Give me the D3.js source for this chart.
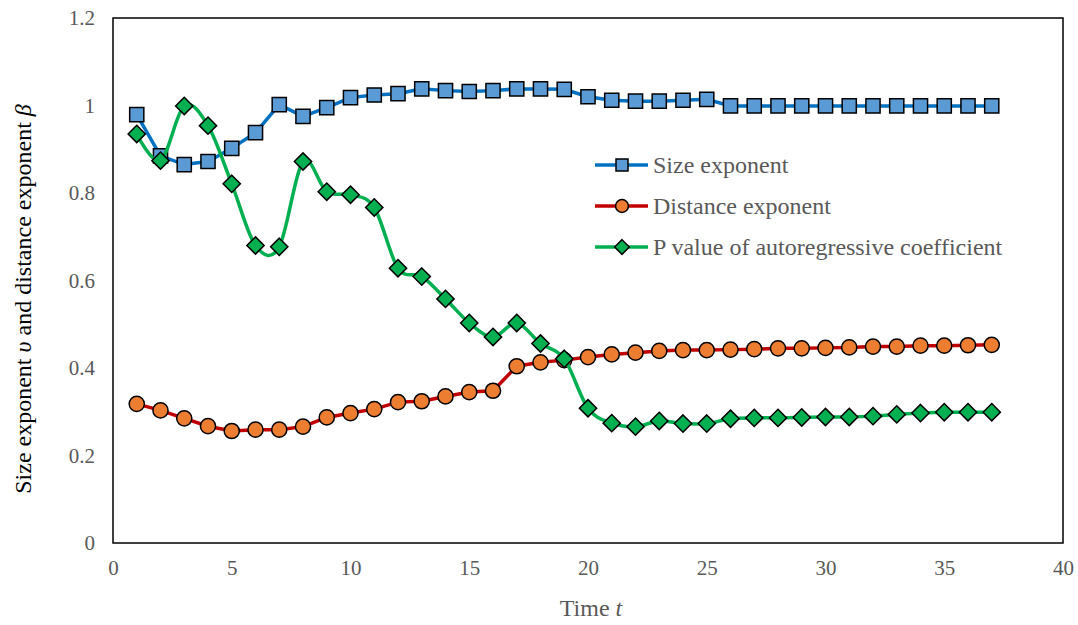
<!DOCTYPE html>
<html>
<head>
<meta charset="utf-8">
<script src="https://cdn.jsdelivr.net/npm/d3@7"></script>
<style>
  body { margin: 0; background: #fff; }
  text { font-family: "Liberation Serif", "Times New Roman", serif; }
</style>
</head>
<body>
<svg id="chart" width="1078" height="625"></svg>
<script>
/*global d3*/

var times = d3.range(1, 38);

var sizeExponent = [0.979, 0.885, 0.865, 0.872, 0.902, 0.938, 1.002, 0.975, 0.995, 1.018,
  1.024, 1.027, 1.038, 1.034, 1.032, 1.034, 1.038, 1.038, 1.037, 1.020,
  1.012, 1.010, 1.010, 1.012, 1.014, 0.999, 0.999, 0.999, 0.999, 0.999,
  0.999, 0.999, 0.999, 0.999, 0.999, 0.999, 0.999];

var distanceExponent = [0.318, 0.303, 0.285, 0.267, 0.256, 0.259, 0.259, 0.266, 0.287, 0.297,
  0.306, 0.322, 0.324, 0.335, 0.345, 0.348, 0.404, 0.413, 0.418, 0.425,
  0.431, 0.435, 0.439, 0.441, 0.441, 0.442, 0.443, 0.445, 0.445, 0.446,
  0.447, 0.449, 0.449, 0.451, 0.451, 0.452, 0.453];

var pValue = [0.935, 0.874, 0.999, 0.954, 0.821, 0.680, 0.677, 0.872, 0.803, 0.796,
  0.767, 0.628, 0.609, 0.558, 0.503, 0.471, 0.503, 0.456, 0.421, 0.308,
  0.274, 0.266, 0.279, 0.273, 0.273, 0.284, 0.286, 0.286, 0.287, 0.288,
  0.288, 0.290, 0.294, 0.297, 0.299, 0.299, 0.299];

var xTicks = [0, 5, 10, 15, 20, 25, 30, 35, 40];
var yTicks = [0, 0.2, 0.4, 0.6, 0.8, 1, 1.2];

var series = [
  {name: "Size exponent", values: sizeExponent, line: "#0070C0", fill: "#5B9BD5", shape: d3.symbolSquare, size: 200, smooth: false},
  {name: "Distance exponent", values: distanceExponent, line: "#C00000", fill: "#ED7D31", shape: d3.symbolCircle, size: 180, smooth: false},
  {name: "P value of autoregressive coefficient", values: pValue, line: "#00B050", fill: "#00B050", shape: d3.symbolDiamond2, size: 190, smooth: true}
];

var margin = {top: 18, right: 15, bottom: 82, left: 113};
var width = 1078 - margin.left - margin.right,
    height = 625 - margin.top - margin.bottom;

var svg = d3.select("#chart");
var g = svg.append("g").attr("transform", "translate(" + margin.left + "," + margin.top + ")");

var x = d3.scaleLinear().domain([0, 40]).range([0, width]);
var y = d3.scaleLinear().domain([0, 1.2]).range([height, 0]);

// tick labels only, no tick marks
g.append("g")
    .attr("transform", "translate(0," + height + ")")
    .call(d3.axisBottom(x).tickValues(xTicks).tickSize(0).tickPadding(17).tickFormat(d3.format("d")))
    .call(function (a) { a.select(".domain").remove(); })
    .selectAll("text")
      .attr("fill", "#595959")
      .style("font-size", "21px")
      .style("font-family", "Liberation Serif");

g.append("g")
    .call(d3.axisLeft(y).tickValues(yTicks).tickSize(0).tickPadding(18).tickFormat(function (d) { return String(+d.toFixed(1)); }))
    .call(function (a) { a.select(".domain").remove(); })
    .selectAll("text")
      .attr("fill", "#595959")
      .style("font-size", "21px")
      .style("font-family", "Liberation Serif");

g.append("rect")
    .attr("width", width)
    .attr("height", height)
    .attr("fill", "none")
    .attr("stroke", "#000")
    .attr("stroke-width", 1.5);

series.forEach(function (s) {
  var pts = times.map(function (t, i) { return [t, s.values[i]]; });
  var line = d3.line()
      .x(function (d) { return x(d[0]); })
      .y(function (d) { return y(d[1]); })
      .curve(s.smooth ? d3.curveCardinal.tension(0) : d3.curveLinear);

  g.append("path")
      .datum(pts)
      .attr("d", line)
      .attr("fill", "none")
      .attr("stroke", s.line)
      .attr("stroke-width", 3.5);

  g.selectAll(null)
      .data(pts)
      .enter().append("path")
      .attr("transform", function (d) { return "translate(" + x(d[0]) + "," + y(d[1]) + ")"; })
      .attr("d", d3.symbol().type(s.shape).size(s.size))
      .attr("fill", s.fill)
      .attr("stroke", "#000")
      .attr("stroke-width", 1.5);
});

// legend
var legend = svg.append("g").attr("transform", "translate(595,165)");
series.forEach(function (s, i) {
  var row = legend.append("g").attr("transform", "translate(0," + (i * 41) + ")");
  row.append("line")
      .attr("x1", 0).attr("x2", 53)
      .attr("stroke", s.line)
      .attr("stroke-width", 3.5);
  row.append("path")
      .attr("transform", "translate(27,0)")
      .attr("d", d3.symbol().type(s.shape).size(s.size * 0.72))
      .attr("fill", s.fill)
      .attr("stroke", "#000")
      .attr("stroke-width", 1.5);
  row.append("text")
      .attr("x", 58)
      .attr("dy", "0.35em")
      .attr("fill", "#595959")
      .style("font-size", "24px")
      .text(s.name);
});

// axis titles
svg.append("text")
    .attr("x", 591)
    .attr("y", 616)
    .attr("text-anchor", "middle")
    .attr("fill", "#595959")
    .style("font-size", "24px")
    .call(function (t) {
      t.append("tspan").text("Time ");
      t.append("tspan").style("font-style", "italic").text("t");
    });

svg.append("text")
    .attr("transform", "translate(31,299) rotate(-90)")
    .attr("text-anchor", "middle")
    .attr("fill", "#000")
    .style("font-size", "24px")
    .call(function (t) {
      t.append("tspan").text("Size exponent ");
      t.append("tspan").style("font-style", "italic").text("υ");
      t.append("tspan").text(" and distance exponent ");
      t.append("tspan").style("font-style", "italic").text("β");
    });
</script>
</body>
</html>
